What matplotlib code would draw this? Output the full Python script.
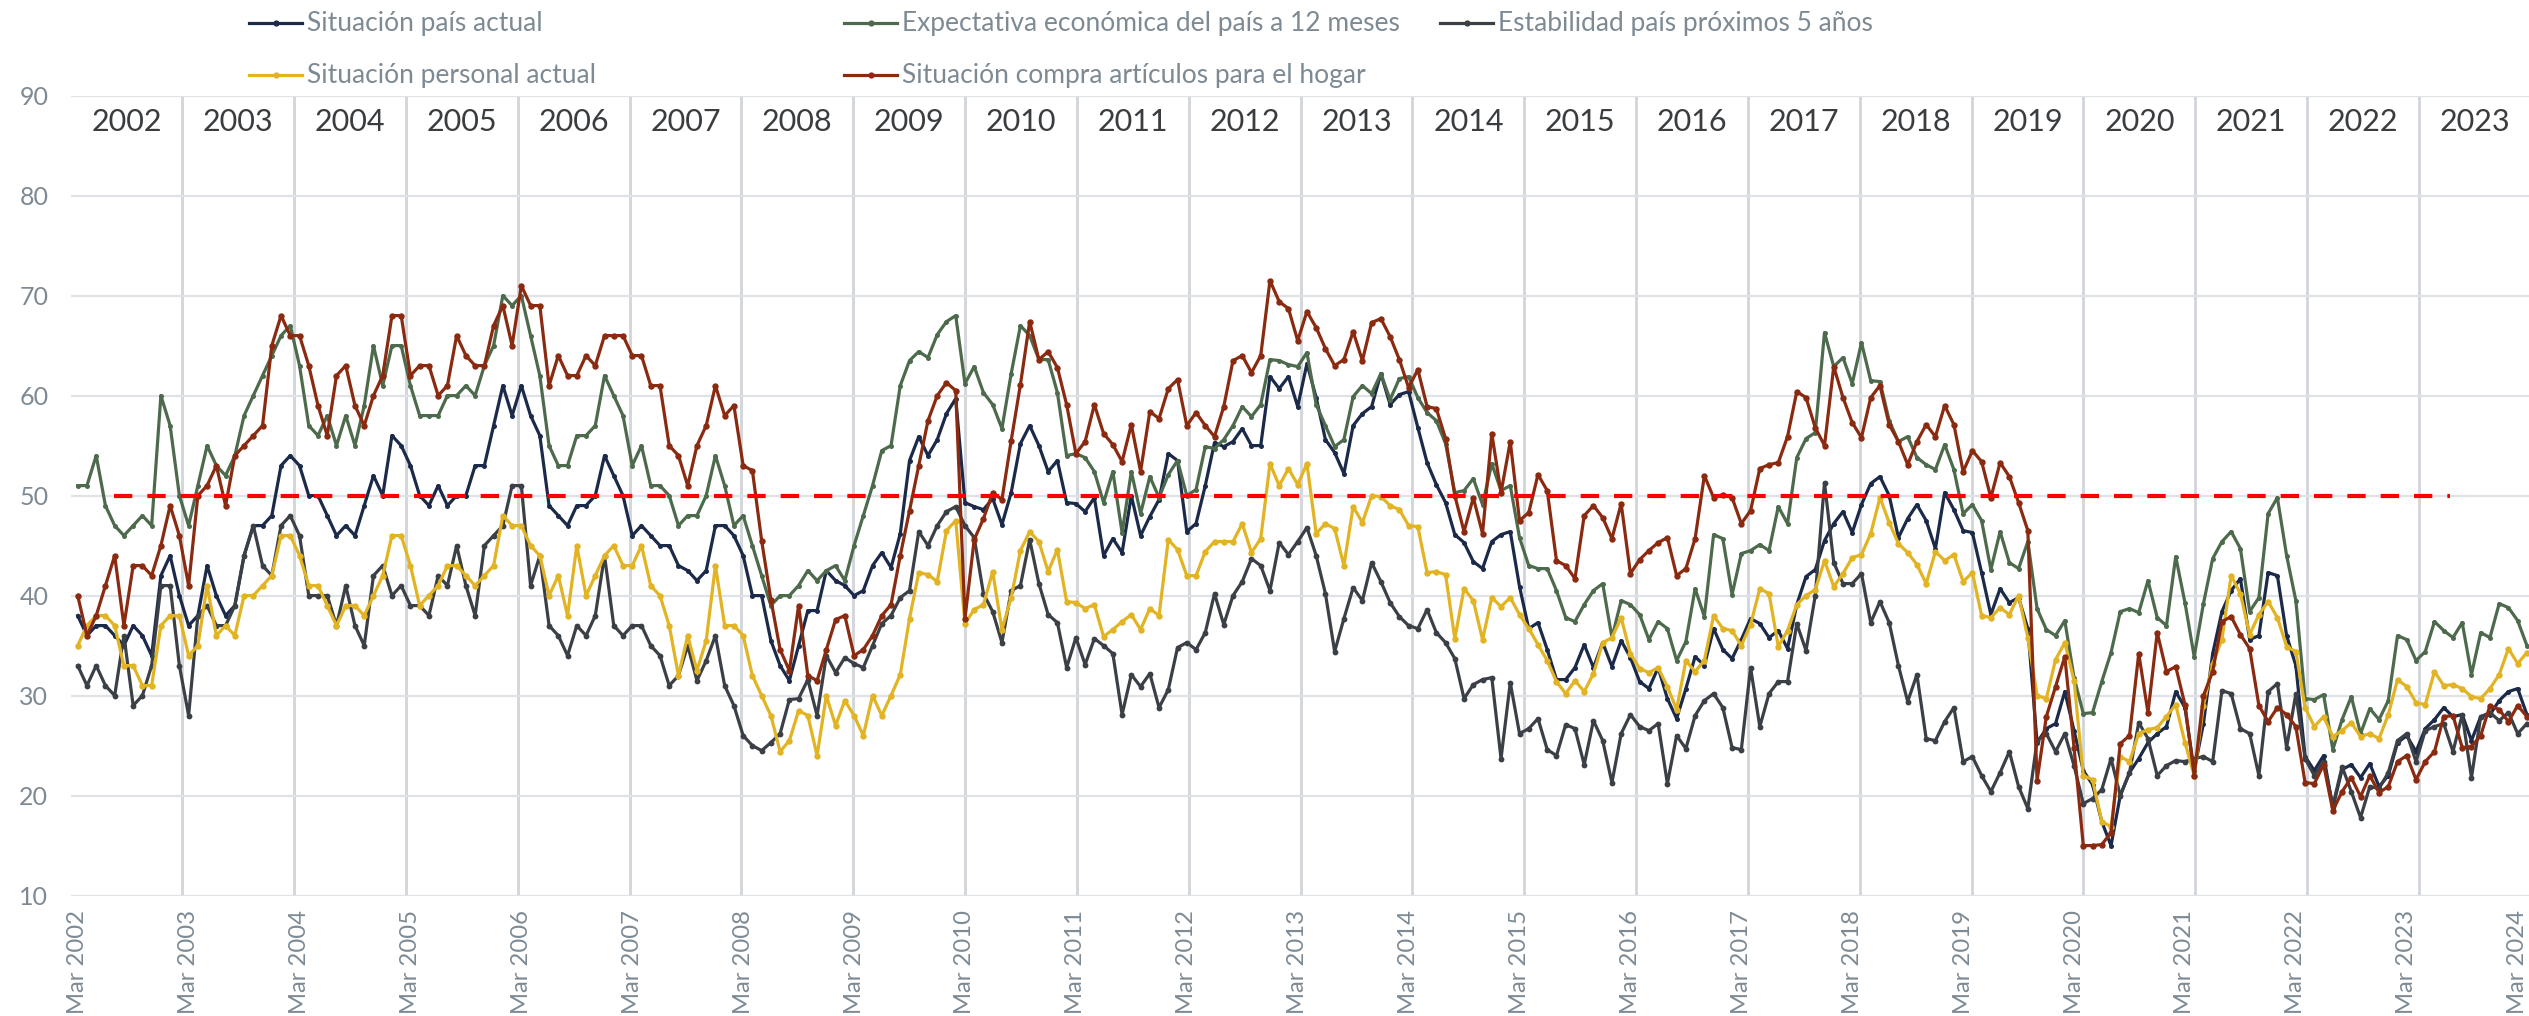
import numpy as np
import matplotlib
matplotlib.use('Agg')
import matplotlib.pyplot as plt
from matplotlib.lines import Line2D

plt.rcParams['font.family'] = ['Lato', 'DejaVu Sans']

# monthly index values, first point Mar 2002
pais_actual = [38,36,37,37,36,35,37,36,34,42,44,40,37,38,43,40,38,39,44,47,47,48,53,54,53,50,50,48,46,47,46,49,52,50,56,55,53,50,49,51,49,50,50,
    53,53,57,61,58,61,58,56,49,48,47,49,49,50,54,52,50,46,47,46,45,45,43,42.5,41.5,42.5,47,47,46,44,40,40,35.5,33,31.5,35,38.5,38.5,42.5,41.5,41,40,40.5,43,
    44.3,42.8,46.2,53.5,55.9,54,55.6,58.2,59.7,49.3,48.9,48.6,49.7,47.1,50.3,55.2,57,55,52.4,53.5,49.3,49.2,48.4,49.8,44,45.7,44.3,50,46,47.9,49.6,54.2,53.5,46.4,47.2,51,55.3,54.9,55.4,56.7,55,55,61.9,60.7,61.9,
    58.9,63.2,59.8,55.6,54.3,52.2,57,58.2,58.9,62.2,59.1,60.1,60.4,56.8,53.3,51.1,49.3,46.1,45.3,43.4,42.7,45.4,46.1,46.4,40.9,36.7,37.3,34.6,31.6,31.6,32.8,35.1,32.8,35.3,32.9,35.5,33.8,31.4,30.7,32.8,29.7,27.7,30.7,33.9,
    33,36.7,34.6,33.7,35.6,37.7,37.2,35.8,36.5,34.7,39.1,41.9,42.6,45.5,47.2,48.4,46.3,49.1,51.2,51.9,50,45.8,47.7,49.1,47.5,44.7,50.3,48.6,46.5,46.3,42.3,38.1,40.7,39.3,39.8,36.7,25.3,26.7,27.2,30.4,26.5,22.5,21.1,17.4,15,
    20,22.3,23.7,25.3,26.2,26.9,30.4,28.8,22.5,27.2,34.2,38.4,40.5,41.7,35.6,36,42.3,42,36,33,23.9,22.5,24,18.8,22.6,23.1,21.8,23.2,20.9,22,25.3,26,24.4,26.7,27.6,28.8,27.9,28.1,25.5,27.9,28.1,29.5,30.4,30.7,28.1]

expectativa_12m = [51,51,54,49,47,46,47,48,47,60,57,50,47,51,55,53,52,54,58,60,62,64,66,67,63,57,56,58,55,58,55,59,65,61,65,65,61,58,58,58,60,60,61,
    60,63,65,70,69,70,66,62,55,53,53,56,56,57,62,60,58,53,55,51,51,50,47,48,48,50,54,51,47,48,45,42,39,40,40,41,42.5,41.5,42.5,43,41.5,45,48,51,
    54.5,55,61,63.5,64.4,63.8,66.1,67.4,68,61.2,62.9,60.3,59.1,56.7,62.2,67,66,63.6,63.6,60.3,54,54.2,53.8,52.4,49.3,52.4,46.3,52.4,48.2,51.9,49.8,52.1,53.5,50,50.6,54.9,54.7,55.6,57,58.9,57.9,59.1,63.6,63.5,63.1,
    62.9,64.3,59.1,57,54.9,55.6,59.9,61,60.2,62.2,59.6,61.7,61.9,59.8,58.3,57.5,55.2,50.3,50.5,51.7,49.1,53.2,50.5,51,45.8,43,42.7,42.7,40.5,37.8,37.4,39.1,40.5,41.2,35.8,39.5,39.1,38.1,35.6,37.4,36.7,33.5,35.4,40.7,
    37.9,46.1,45.7,40.1,44.2,44.5,45.1,44.5,48.9,47.2,53.8,55.7,56.3,66.3,62.9,63.8,61.2,65.3,61.5,61.4,57.5,55.4,55.9,53.8,53.1,52.6,55.1,52.6,48.2,49.1,47.5,42.6,46.4,43.3,42.7,45.4,38.7,36.6,36,37.5,31.8,28.2,28.3,31.4,34.3,
    38.4,38.7,38.3,41.5,37.8,37,43.9,39.3,33.9,39.2,43.7,45.4,46.4,44.7,38.4,39.8,48.2,49.8,44,39.5,29.7,29.6,30.1,24.6,27.6,29.9,26.2,28.7,27.6,29.5,36,35.6,33.5,34.4,37.4,36.5,35.8,37.3,32.1,36.3,35.8,39.2,38.8,37.5,35]

estabilidad_5a = [33,31,33,31,30,36,29,30,33,41,41,33,28,38,39,37,37,39,44,47,43,42,47,48,46,40,40,40,37,41,37,35,42,43,40,41,39,39,38,42,41,45,41,
    38,45,46,47,51,51,41,44,37,36,34,37,36,38,44,37,36,37,37,35,34,31,32,35,31.5,33.5,36,31,29,26,25,24.5,25.3,26.2,29.6,29.7,31.6,28,34,32.3,33.8,33.2,32.8,35,
    37.2,38,39.8,40.5,46.4,45,47,48.4,48.9,47,45.8,40.2,38.4,35.3,40.5,41,45.6,41.2,38.1,37.3,32.8,35.8,33.1,35.7,35,34.2,28.1,32.1,30.9,32.2,28.8,30.6,34.8,35.3,34.6,36.3,40.2,37.1,40,41.4,43.7,43,40.5,45.3,44.1,
    45.4,46.8,44,40.2,34.4,37.7,40.8,39.5,43.3,41.4,39.3,37.9,37,36.7,38.6,36.3,35.3,33.7,29.7,31.1,31.6,31.8,23.7,31.3,26.2,26.7,27.7,24.6,24,27.1,26.7,23.1,27.5,25.5,21.3,26.2,28.1,26.9,26.5,27.2,21.2,26,24.7,28,
    29.5,30.2,28.8,24.8,24.6,32.8,26.9,30.2,31.4,31.4,37.2,34.5,40,51.3,43.3,41.2,41.2,42.2,37.3,39.4,37.3,33,29.4,32.1,25.7,25.5,27.4,28.8,23.4,23.9,22,20.4,22.3,24.4,20.9,18.7,25.5,26.2,24.4,26.2,23,19.2,19.7,20.6,23.7,
    20,22.3,27.3,25.7,22,23,23.5,23.4,23.7,23.9,23.4,30.5,30.2,26.7,26.2,22,30.4,31.2,24.8,30.2,23.7,22,23.4,19,22.9,20.4,17.8,20.9,20.7,22.3,25.5,26.2,23.4,26.5,26.9,27.2,24.4,28.1,21.8,27.9,28.3,27.5,28.3,26.2,27.2]

personal_actual = [35,37,38,38,37,33,33,31,31,37,38,38,34,35,41,36,37,36,40,40,41,42,46,46,44,41,41,39,37,39,39,38,40,42,46,46,43,39,40,41,43,43,42,
    41,42,43,48,47,47,45,44,40,42,38,45,40,42,44,45,43,43,45,41,40,37,32,36,32.5,35.5,43,37,37,36,32,30,28,24.4,25.5,28.5,28,24,30,27,29.5,28,26,30,
    28,30,32.1,37.7,42.3,42.1,41.4,46.5,47.5,37.2,38.6,39.1,42.4,36.6,39.8,44.5,46.4,45.4,42.4,44.6,39.4,39.3,38.7,39.1,35.9,36.6,37.4,38.1,36.6,38.7,38,45.6,44.6,42,42,44.4,45.4,45.4,45.4,47.2,44.3,45.7,53.2,51,52.7,
    51.1,53.2,46.2,47.2,46.7,43,48.9,47.3,50,49.9,49,48.6,47,46.9,42.3,42.4,42.1,35.7,40.7,39.5,35.6,39.8,38.9,39.8,38.1,36.7,35.1,33.5,31.4,30.2,31.5,30.4,32.2,35.3,35.8,37.8,34.2,32.7,32.3,32.8,30.9,28.6,33.5,32.4,
    33.5,38,36.7,36.5,35,37.1,40.7,40.2,34.9,36.5,39.1,40,40.6,43.5,40.9,42.2,43.8,44.1,46.2,49.8,47.3,45.2,44.3,43.1,41.2,44.4,43.5,44.1,41.4,42.3,38,37.8,38.8,38.1,40,35.8,30,29.7,33.6,35.3,31.5,22,21.6,17.4,16.9,
    23.9,23.4,26.2,26.6,26.8,27.9,29.1,25.3,22,29,33.2,35.6,42,40.2,36.1,38.1,39.4,37.8,34.9,34.4,28.8,26.9,27.9,25.9,26.5,27.3,25.9,26.2,25.7,28.1,31.6,30.9,29.3,29.1,32.4,31,31.1,30.7,29.9,29.7,30.7,32.1,34.7,33.2,34.3]

compra_hogar = [40,36,38,41,44,37,43,43,42,45,49,46,41,50,51,53,49,54,55,56,57,65,68,66,66,63,59,56,62,63,59,57,60,62,68,68,62,63,63,60,61,66,64,
    63,63,67,69,65,71,69,69,61,64,62,62,64,63,66,66,66,64,64,61,61,55,54,51,55,57,61,58,59,53,52.5,45.5,39.6,34.6,32.5,39,32,31.5,34.6,37.6,38,34,34.6,36,
    38,39.1,44,48.5,53,57.5,60,61.3,60.5,37.7,45.6,47.7,50.3,49.6,55.5,61.1,67.4,63.6,64.4,62.8,59.1,54.2,55.4,59.1,56.2,55.1,53.4,57.1,52.4,58.4,57.7,60.7,61.6,57,58.3,57,55.9,58.9,63.5,64,62.3,64,71.5,69.4,68.7,
    65.5,68.4,66.8,64.7,63,63.6,66.4,63.5,67.3,67.7,65.9,63.6,60.8,62.6,58.9,58.7,55.7,50,46.4,49.8,46.2,56.2,50.3,55.4,47.5,48.3,52.1,50.5,43.5,43,41.7,48,49,47.8,45.7,49.2,42.2,43.6,44.5,45.3,45.8,42,42.7,45.7,
    52,49.8,50.1,49.8,47.2,48.5,52.7,53.1,53.3,55.9,60.4,59.8,56.8,55,62.9,59.8,57.3,55.8,59.8,61,57.1,55.4,53.1,55.4,57.1,55.9,59,57.1,52.4,54.5,53.4,49.8,53.3,51.9,49.3,46.5,21.5,27.9,30.9,33.9,24.8,15,15,15.1,16.3,
    25.2,26,34.2,28.3,36.3,32.4,32.9,29.1,22,30,32.4,37.4,37.9,36.1,34.7,29,27.4,28.8,28.1,26.9,21.3,21.2,23.1,18.5,20.4,21.8,19.9,22,20.3,20.9,23.4,24,21.6,23.4,24.4,27.9,28,24.8,24.9,26,29,28.6,27.4,29,27.9]

years = list(range(2002, 2024))
tick_labels = ['Mar %d' % y for y in range(2002, 2025)]

ref_level = 50
ref_months = (3.9, 256.7)   # span of the dashed 50 line, in month index

W, H = 2529, 1016
TICK_C = '#7d8a94'

def pos(i):
    # month index -> position on the year-band axis (bands are 1 unit wide)
    return (np.asarray(i, dtype=float) + 0.78) / 12.1

series = [
    ('Situación país actual', pais_actual, '#1c2a4a', 3.6),
    ('Expectativa económica del país a 12 meses', expectativa_12m, '#4d6b4c', 3.6),
    ('Estabilidad país próximos 5 años', estabilidad_5a, '#3b4047', 4.2),
    ('Situación personal actual', personal_actual, '#e2b322', 4.6),
    ('Situación compra artículos para el hogar', compra_hogar, '#8a2a10', 4.6),
]

fig = plt.figure(figsize=(W / 100, H / 100), dpi=100)
ax = fig.add_axes([70.5 / W, 1 - 895.6 / H, (2530.8 - 70.5) / W, 800 / H])

for name, vals, col, ms in series:
    x = pos(np.arange(len(vals)))
    ax.plot(x, vals, color=col, lw=2.3, marker='o', ms=ms, mew=0,
            solid_joinstyle='round', zorder=3)

ax.hlines(ref_level, pos(ref_months[0]), pos(ref_months[1]), colors='#ff0000',
          lw=3, linestyles=(0, (4.4, 3.6)), zorder=4)

ax.set_xlim(0, 22)
ax.set_ylim(10, 90)
ax.set_yticks(range(10, 91, 10))
# "Mar YYYY" labels sit on the March data points
ax.set_xticks(pos(np.arange(0, 12 * len(tick_labels), 12)))
ax.set_xticklabels(tick_labels, rotation=90)
# year bands
ax.set_xticks(range(1, 22), minor=True)
ax.xaxis.remove_overlapping_locs = False
ax.grid(axis='y', color='#dfe2e6', lw=1.6, zorder=0)
ax.grid(axis='x', which='minor', color='#d3d7db', lw=2.1, zorder=0)
ax.grid(axis='x', which='major', visible=False)
ax.tick_params(axis='both', which='both', length=0, colors=TICK_C)
ax.tick_params(axis='y', labelsize=18, pad=16)
ax.tick_params(axis='x', labelsize=17.2, pad=10.5)
for s in ax.spines.values():
    s.set_visible(False)

for k, y in enumerate(years):
    ax.text(k + 0.5, 87.4, str(y), ha='center', va='center', fontsize=22,
            color='#3a3d40')

# legend drawn by hand on a fixed grid
leg_cols = [249, 844, 1440]
leg_rows = [23, 75]
leg_slots = [(0, 0), (0, 1), (0, 2), (1, 0), (1, 1)]
for (name, vals, col, ms), (r, c) in zip(series, leg_slots):
    x0 = leg_cols[c] / W
    x1 = (leg_cols[c] + 53) / W
    yy = 1 - leg_rows[r] / H
    fig.add_artist(Line2D([x0, x1], [yy, yy], transform=fig.transFigure,
                          color=col, lw=2.3))
    fig.add_artist(Line2D([(x0 + x1) / 2], [yy], transform=fig.transFigure,
                          color=col, marker='o', ms=4.5, mew=0))
    fig.text(x1 + 5 / W, yy, name, ha='left', va='center', fontsize=19,
             color=TICK_C)

fig.savefig('out.png', dpi=100)
